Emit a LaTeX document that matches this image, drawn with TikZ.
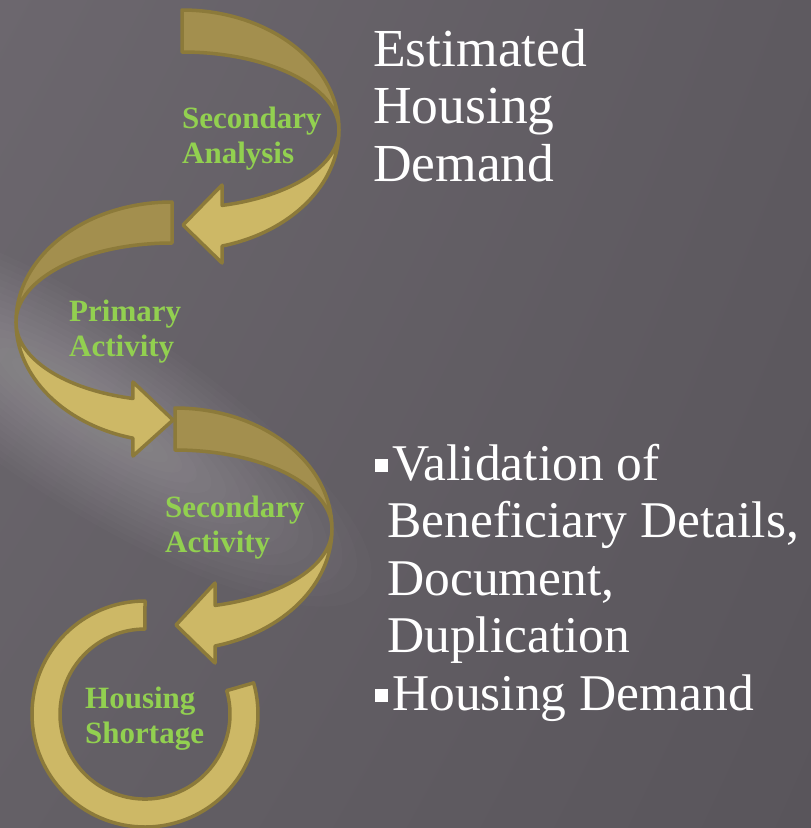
\documentclass[tikz,border=0pt]{standalone}
\usepackage{fontspec}
\setmainfont{Liberation Serif}
\usetikzlibrary{shadings}
\definecolor{bg}{HTML}{5D5960}
\definecolor{bgtl}{HTML}{6C676E}
\definecolor{bgtr}{HTML}{5E5A60}
\definecolor{bgbl}{HTML}{646066}
\definecolor{bgbr}{HTML}{59555B}
\definecolor{goldlight}{HTML}{CDB866}
\definecolor{golddark}{HTML}{A38F4E}
\definecolor{goldline}{HTML}{8C7A3A}
\definecolor{lblgreen}{HTML}{92D050}
\tikzset{
  face/.style={draw=goldline, line width=3.5pt, line join=round},
  darkface/.style={face, fill=golddark},
  lightface/.style={face, fill=goldlight},
  lbl/.style={anchor=base west, inner sep=0pt, text=lblgreen, font=\fontsize{31}{35}\selectfont\bfseries},
  bigtxt/.style={anchor=base west, inner sep=0pt, text=white, font=\fontsize{53.5}{57.5}\selectfont},
  listtxt/.style={anchor=base west, inner sep=0pt, text=white, font=\fontsize{51.5}{57.5}\selectfont}
}
\newcommand{\bsq}{\rule[8pt]{13pt}{13pt}\hspace{4pt}}
\begin{document}
\begin{tikzpicture}[x=1pt,y=-1pt]
\useasboundingbox (0,0) rectangle (811,828);
% background
\shade[upper left=bgtl, upper right=bgtr, lower left=bgbl, lower right=bgbr] (0,0) rectangle (811,828);
\foreach \i in {0,...,15}{
  \fill[white, opacity=0.016, rotate around={-33:(90,410)}] (90,410) ellipse[x radius={330-17*\i}, y radius={95-5.5*\i}];
}
% arrow 1 (Secondary Analysis)
\path[darkface] (182,10) arc[start angle=-90,end angle=0,x radius=157,y radius=120]
  arc[start angle=0,end angle=-90,x radius=157,y radius=78] -- cycle;
\path[lightface] (339,130) arc[start angle=0,end angle=75.2,x radius=157,y radius=120]
  -- (222,263) -- (183,225) -- (222,185) -- (222.1,205.4)
  arc[start angle=75.2,end angle=0,x radius=157,y radius=78] -- cycle;
% arrow 2 (Primary Activity)
\path[darkface] (172,202) arc[start angle=270,end angle=180,x radius=156,y radius=120]
  arc[start angle=180,end angle=270,x radius=156,y radius=79] -- cycle;
\path[lightface] (16,322) arc[start angle=180,end angle=104.5,x radius=156,y radius=120]
  -- (133,456) -- (173,420) -- (133,382) -- (132.9,398.5)
  arc[start angle=104.5,end angle=180,x radius=156,y radius=79] -- cycle;
% arrow 3 (Secondary Activity)
\path[darkface] (175,408) arc[start angle=-90,end angle=0,x radius=157,y radius=121]
  arc[start angle=0,end angle=-90,x radius=157,y radius=79] -- cycle;
\path[lightface] (332,529) arc[start angle=0,end angle=75.2,x radius=157,y radius=121]
  -- (215,663) -- (176,625) -- (215,583) -- (215.1,605.4)
  arc[start angle=75.2,end angle=0,x radius=157,y radius=79] -- cycle;
% ring (Housing Shortage)
\path[lightface] (145,601) arc[start angle=270,end angle=-16,radius=113]
  -- (226.7,690.6) arc[start angle=-16,end angle=270,radius=85] -- cycle;
% labels
\node[lbl] (sa) at (182,128) {\begin{tabular}[t]{@{}l@{}}Secondary\\Analysis\end{tabular}};
\node[lbl] (pa) at (69,321) {\begin{tabular}[t]{@{}l@{}}Primary\\Activity\end{tabular}};
\node[lbl] (sact) at (165,517) {\begin{tabular}[t]{@{}l@{}}Secondary\\Activity\end{tabular}};
\node[lbl] (hs) at (85,708) {\begin{tabular}[t]{@{}l@{}}Housing\\Shortage\end{tabular}};
\node[bigtxt] (ehd) at (373,66) {\begin{tabular}[t]{@{}l@{}}Estimated\\Housing\\Demand\end{tabular}};
\node[listtxt] (val) at (375,480) {\begin{tabular}[t]{@{}l@{}}\bsq Validation of\\\hspace{12pt}Beneficiary Details,\\\hspace{12pt}Document,\\\hspace{12pt}Duplication\\\bsq Housing Demand\end{tabular}};
\end{tikzpicture}
\end{document}
